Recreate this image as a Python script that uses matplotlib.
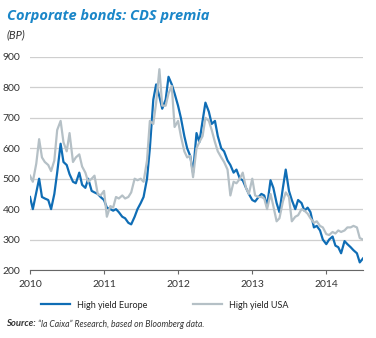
import matplotlib
matplotlib.use("Agg")
import matplotlib.pyplot as plt
import matplotlib.dates as mdates
import pandas as pd

# ---------------------------------------------------------------- data
# semi-monthly readings (1st and 15th), Jan 2010 -> Jul 2014, in bp
dates = pd.date_range("2010-01-01", "2014-07-01", freq="SMS")

europe = [
    # 2010
    440, 400, 455, 500, 440, 435, 430, 400, 450, 520, 615, 555,
    545, 515, 490, 485, 520, 480, 470, 500, 460, 455, 450, 440,
    # 2011
    430, 405, 400, 395, 400, 390, 375, 370, 355, 350, 375, 400,
    420, 440, 500, 600, 760, 810, 770, 730, 760, 835, 810, 780,
    # 2012
    740, 700, 640, 600, 575, 520, 650, 620, 690, 750, 720, 680,
    690, 640, 600, 590, 560, 545, 520, 530, 500, 495, 470, 450,
    # 2013
    430, 425, 440, 450, 445, 410, 495, 470, 420, 390, 470, 530,
    460, 430, 400, 430, 420, 395, 405, 390, 340, 345, 330, 300,
    # 2014
    285, 300, 310, 280, 275, 255, 295, 285, 275, 265, 255, 225,
    238,
]
usa = [
    # 2010
    510, 490, 550, 630, 570, 555, 545, 525, 560, 660, 690, 620,
    590, 650, 555, 570, 580, 540, 520, 490, 500, 510, 450, 445,
    # 2011
    460, 375, 410, 405, 440, 435, 445, 435, 440, 455, 500, 495,
    500, 490, 560, 690, 680, 750, 860, 740, 740, 780, 805, 670,
    # 2012
    690, 640, 590, 570, 575, 505, 600, 620, 640, 700, 690, 660,
    620, 590, 570, 555, 530, 445, 490, 485, 500, 520, 470, 450,
    # 2013
    500, 445, 440, 440, 435, 400, 450, 410, 360, 370, 425, 455,
    440, 360, 375, 380, 400, 395, 385, 370, 355, 360, 345, 340,
    # 2014
    318, 315, 325, 320, 330, 325, 330, 340, 340, 345, 340, 305,
    300,
]
labels = ["High yield Europe", "High yield USA"]
yticks = [200, 300, 400, 500, 600, 700, 800, 900]

# ---------------------------------------------------------------- style
plt.rcParams["font.family"] = ["Lato", "DejaVu Sans"]
TITLE_FONT = ["Open Sans", "DejaVu Sans"]
BLUE = "#0f6db5"
GREY = "#b5c0c6"
TITLE_BLUE = "#1a86c8"
TXT = "#333333"

W, H = 376, 338
fig = plt.figure(figsize=(W / 100, H / 100), dpi=100)
ax = fig.add_axes([30 / W, 1 - 270 / H, (363 - 30) / W, (270 - 57) / H])

ax.plot(dates, europe, color=BLUE, lw=1.6, label=labels[0])
ax.plot(dates, usa, color=GREY, lw=1.6, label=labels[1])

ax.set_xlim(pd.Timestamp("2010-01-01"), pd.Timestamp("2014-07-01"))
ax.set_ylim(200, 900)
ax.set_yticks(yticks)
ax.xaxis.set_major_locator(mdates.YearLocator())
ax.xaxis.set_major_formatter(mdates.DateFormatter("%Y"))

for s in ["top", "right", "left"]:
    ax.spines[s].set_visible(False)
ax.spines["bottom"].set_color("#666666")
ax.spines["bottom"].set_linewidth(0.8)
ax.grid(axis="y", color="#cfcfcf", lw=0.9)
ax.set_axisbelow(True)
ax.tick_params(axis="y", length=0, pad=7, labelsize=7.5, labelcolor=TXT)
ax.tick_params(axis="x", length=3, width=0.8, color="#666666", pad=4,
               labelsize=7.5, labelcolor=TXT)

# titles
fig.text(7 / W, 1 - 16 / H, "Corporate bonds: CDS premia", fontsize=10.5,
         fontweight="bold", style="italic", color=TITLE_BLUE, va="center",
         family=TITLE_FONT)
fig.text(7 / W, 1 - 35 / H, "(BP)", fontsize=8, style="italic",
         color=TXT, va="center")

# legend
fig.legend(loc="center", bbox_to_anchor=(165 / W, 1 - 305 / H), ncol=2,
           frameon=False, fontsize=6.5, handlelength=3.2, handletextpad=0.8,
           columnspacing=5.0, labelcolor="#222222")

# source
src = fig.text(6 / W, 1 - 324 / H, "Source:", fontsize=6.8,
               fontweight="bold", style="italic", color=TXT, va="center")
fig.canvas.draw()
bb = src.get_window_extent()
fig.text(bb.x1 / W + 2 / W, 1 - 324 / H,
         "\u201cla Caixa\u201d Research, based on Bloomberg data.",
         fontsize=6.2, style="italic", color=TXT, va="center")

fig.savefig("out.png", dpi=100)
